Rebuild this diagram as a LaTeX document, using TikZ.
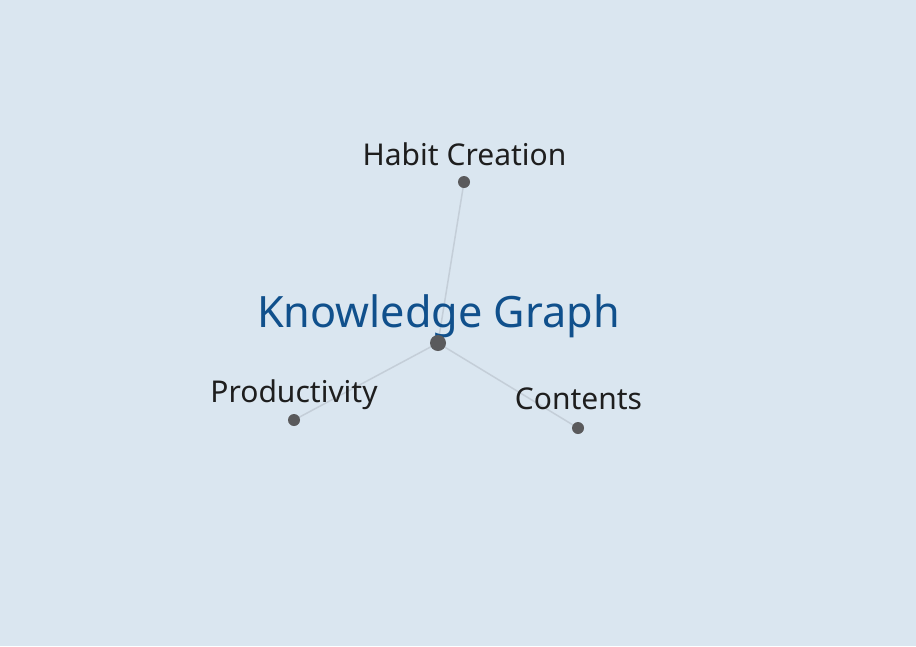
\documentclass[tikz,border=0pt]{standalone}
\usepackage{fontspec}
\setmainfont{Noto Sans}
\definecolor{bg}{RGB}{218,230,240}
\definecolor{titleblue}{RGB}{16,80,140}
\definecolor{dotgray}{RGB}{90,90,92}
\definecolor{edgegray}{RGB}{196,206,216}
\definecolor{labelblack}{RGB}{30,30,30}
\tikzset{
  dotnode/.style={circle,fill=dotgray,inner sep=0pt,minimum size=12pt},
  bigdot/.style={circle,fill=dotgray,inner sep=0pt,minimum size=16pt},
  edge/.style={draw=edgegray,line width=1.5pt},
  lbl/.style={anchor=base,inner sep=0pt,text=labelblack,font=\fontsize{30}{33}\selectfont},
  title/.style={anchor=base,inner sep=0pt,text=titleblue,font=\fontsize{43.2}{47}\selectfont}
}
\begin{document}
\begin{tikzpicture}[x=1pt,y=-1pt]
\fill[bg] (0,0) rectangle (916,646);
\useasboundingbox (0,0) rectangle (916,646);
\coordinate (c) at (438,343);
\coordinate (h) at (464,182);
\coordinate (p) at (294,420);
\coordinate (k) at (578,428);
\draw[edge] (c) -- (h);
\draw[edge] (c) -- (p);
\draw[edge] (c) -- (k);
\node[title] (tt) at (438.5,327) {Knowledge Graph};
\node[lbl] (th) at (464.5,165) {Habit Creation};
\node[lbl] (tp) at (294,402) {Productivity};
\node[lbl] (tk) at (578.5,409) {Contents};
\node[bigdot] (nc) at (c) {};
\node[dotnode] (nh) at (h) {};
\node[dotnode] (np) at (p) {};
\node[dotnode] (nk) at (k) {};
\end{tikzpicture}
\end{document}
